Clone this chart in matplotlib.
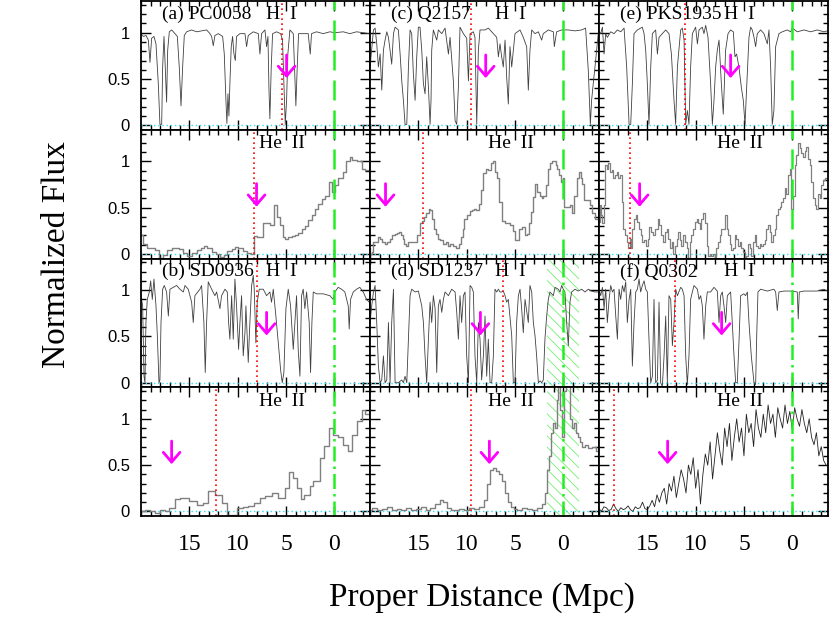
import numpy as np
import matplotlib
matplotlib.use('agg')
import matplotlib.pyplot as plt
from matplotlib.ticker import MultipleLocator, FixedLocator, FuncFormatter

# ---------------- data (Mpc, normalized flux) ----------------
a_hi_x = [20.01, 19.77, 19.49, 19.25, 19.08, 18.91, 18.67, 18.46, 18.22, 18.05, 17.87, 17.77, 17.63, 17.50, 17.36,
          17.25, 17.08, 16.84, 16.49, 16.25, 16.05, 15.87, 15.70, 15.53, 15.29, 14.77, 14.25, 13.74, 13.22, 12.87,
          12.70, 12.53, 12.36, 12.01, 11.56, 11.39, 11.22, 11.12, 11.01, 10.91, 10.81, 10.67, 10.53, 10.39, 10.25,
          10.12, 9.77, 9.25, 9.08, 8.91, 8.39, 7.87, 7.70, 7.53, 7.18, 7.01, 6.87, 6.77, 6.67, 6.53, 6.39, 5.98, 5.56,
          5.36, 5.22, 5.08, 4.94, 4.81, 4.60, 4.25, 4.12, 3.98, 3.84, 3.70, 3.22, 2.70, 2.60, 2.49, 2.36, 1.84, 1.15,
          0.46, -0.06, -0.92, -1.61, -2.30, -2.99, -3.61]
a_hi_y = [0.99, 0.96, 0.97, 0.92, 0.68, 0.94, 0.96, 0.88, 0.45, 0.01, 0.01, 0.63, 0.96, 0.63, 0.25, 0.81, 1.01, 1.03,
          0.99, 0.96, 0.63, 0.21, 0.63, 0.97, 1.01, 1.03, 1.01, 1.02, 1.03, 0.99, 0.96, 0.86, 0.97, 0.99, 0.96, 0.77,
          0.27, 0.02, 0.34, 0.10, 0.45, 0.85, 0.96, 0.77, 0.70, 0.96, 0.99, 0.99, 0.85, 0.97, 1.01, 0.99, 0.77, 0.99,
          1.03, 0.85, 0.96, 0.41, 0.07, 0.63, 0.99, 1.01, 0.99, 0.92, 0.45, 0.01, 0.27, 0.77, 1.03, 0.99, 0.63, 0.21,
          0.63, 0.99, 0.99, 0.99, 0.88, 0.77, 0.99, 1.01, 0.99, 1.01, 1.0, 1.01, 0.99, 1.01, 1.0, 0.99]

a_he_edges = [20.01, 19.77, 19.36, 18.56, 18.12, 17.7, 17.29, 16.84, 16.05, 15.63, 15.22, 14.77, 14.25, 13.84, 13.5,
              13.15, 12.7, 12.25, 11.84, 11.43, 11.08, 10.63, 10.29, 9.94, 9.5, 9.08, 8.67, 8.32, 7.98, 7.43, 7.01,
              6.67, 6.25, 5.91, 5.63, 5.36, 5.12, 4.77, 4.43, 4.08, 3.74, 3.39, 3.05, 2.7, 2.36, 2.01, 1.67, 1.32,
              0.98, 0.53, 0.19, -0.06, -0.4, -0.92, -1.26, -1.61, -1.88, -2.3, -2.82, -3.16, -3.68]
a_he_lev = [0.20, 0.11, 0.07, 0.04, -0.04, -0.01, 0.04, 0.06, 0.05, 0.01, -0.02, 0.01, 0.04, 0.06, 0.09, 0.06, 0.02,
            0.0, -0.03, -0.01, 0.03, 0.05, 0.08, 0.06, 0.03, 0.01, 0.0, 0.19, 0.18, 0.33, 0.34, 0.31, 0.53, 0.40,
            0.31, 0.18, 0.16, 0.18, 0.19, 0.21, 0.23, 0.27, 0.30, 0.37, 0.42, 0.49, 0.54, 0.59, 0.63, 0.78, 0.67,
            0.74, 0.82, 0.89, 1.0, 1.05, 1.02, 1.0, 0.92, 0.91]

c_hi_x = [20.17, 20.0, 19.65, 19.48, 19.31, 19.14, 18.96, 18.79, 18.62, 18.45, 18.27, 18.1, 17.93, 17.76, 17.58,
          17.41, 17.07, 16.89, 16.72, 16.55, 16.38, 16.2, 16.03, 15.86, 15.69, 15.52, 15.34, 15.17, 15.0, 14.83,
          14.65, 14.48, 14.31, 14.14, 13.96, 13.79, 13.69, 13.62, 13.45, 13.1, 12.93, 12.58, 12.24, 11.89, 11.72,
          11.38, 11.2, 11.03, 10.86, 10.69, 10.34, 10.0, 9.82, 9.65, 9.31, 9.14, 8.96, 8.79, 8.62, 8.1, 7.76, 7.24,
          6.89, 6.72, 6.55, 6.38, 6.21, 6.03, 5.86, 5.69, 5.52, 5.34, 5.17, 5.0, 4.48, 4.14, 3.79, 3.62, 3.45, 3.27,
          2.93, 2.58, 2.24, 2.07, 1.55, 1.03, 0.93, 0.69, 0.17, -0.52, -1.21, -1.9, -2.31, -2.59, -2.8, -2.93, -3.1,
          -3.28, -3.62]
c_hi_y = [0.12, 0.63, 1.03, 1.05, 0.88, 0.63, 0.77, 0.38, 0.81, 0.92, 1.01, 0.95, 0.81, 0.66, 0.99, 1.06, 1.03, 0.77,
          0.48, 0.27, 0.01, 0.01, 0.63, 1.03, 0.99, 0.56, 0.27, 0.74, 1.06, 1.06, 0.81, 0.45, 0.34, 0.74, 0.41, 0.01,
          0.27, 0.81, 1.03, 0.92, 1.03, 0.99, 1.05, 0.77, 0.95, 0.48, 0.05, 0.01, 0.41, 1.06, 0.99, 0.94, 0.48, 0.99,
          1.01, 0.95, 0.01, 0.81, 1.03, 1.03, 1.05, 0.99, 0.95, 0.74, 0.88, 0.74, 0.63, 0.92, 0.52, 0.23, 0.85, 0.63,
          0.81, 0.99, 1.03, 0.95, 0.85, 0.38, 0.81, 1.03, 0.99, 1.01, 0.92, 0.99, 1.03, 1.01, 0.85, 1.01, 1.03, 1.03,
          1.02, 1.03, 1.05, 0.59, 0.01, 0.27, 0.45, 0.63, 0.99]

c_he_x = [20.17, 19.89, 19.76, 19.55, 19.31, 19.14, 18.86, 18.62, 18.38, 18.1, 17.83, 17.58, 17.34, 17.07, 16.89,
          16.72, 16.55, 16.38, 16.2, 15.86, 15.69, 15.34, 15.0, 14.72, 14.48, 14.31, 14.03, 13.86, 13.69, 13.52,
          13.34, 13.1, 12.86, 12.58, 12.31, 12.07, 11.82, 11.55, 11.27, 10.93, 10.69, 10.52, 10.34, 10.17, 9.82,
          9.55, 9.31, 9.14, 8.86, 8.62, 8.45, 8.17, 7.93, 7.58, 7.34, 7.14, 6.96, 6.79, 6.55, 6.2, 5.96, 5.69, 5.34,
          5.07, 4.93, 4.72, 4.48, 4.14, 3.89, 3.69, 3.45, 3.21, 3.03, 2.83, 2.58, 2.31, 2.14, 1.96, 1.72, 1.48, 1.27,
          1.03, 0.86, 0.69, 0.58, 0.34, 0.1, -0.04, -0.17, -0.52, -0.8, -1.04, -1.28, -1.55, -1.73, -1.9, -2.07,
          -2.31, -2.59, -2.86, -3.1, -3.45, -3.62]
c_he_y = [0.06, 0.0, 0.02, 0.13, 0.13, 0.18, 0.16, 0.13, 0.11, 0.13, 0.16, 0.2, 0.22, 0.23, 0.24, 0.2, 0.16, 0.11,
          0.09, 0.13, 0.13, 0.13, 0.2, 0.33, 0.36, 0.4, 0.44, 0.49, 0.47, 0.38, 0.27, 0.22, 0.16, 0.15, 0.11, 0.13,
          0.09, 0.11, 0.09, 0.07, 0.11, 0.18, 0.27, 0.38, 0.42, 0.46, 0.47, 0.49, 0.47, 0.54, 0.69, 0.87, 0.92, 0.91,
          0.98, 1.0, 0.89, 0.82, 0.56, 0.36, 0.33, 0.33, 0.31, 0.25, 0.15, 0.15, 0.27, 0.29, 0.2, 0.22, 0.33, 0.45,
          0.62, 0.76, 0.67, 0.63, 0.6, 0.63, 0.74, 0.92, 0.98, 1.0, 1.0, 0.96, 0.92, 0.85, 0.78, 0.82, 0.51, 0.51,
          0.53, 0.44, 0.63, 0.82, 0.89, 0.82, 0.76, 0.58, 0.58, 0.53, 0.44, 0.38, 0.38]

e_hi_x = [20.17, 19.83, 19.65, 19.48, 19.31, 19.14, 18.79, 18.45, 18.1, 17.76, 17.41, 17.14, 16.89, 16.72, 16.55,
          16.38, 16.03, 15.52, 15.34, 15.17, 15.0, 14.83, 14.65, 14.48, 14.14, 13.96, 13.79, 13.45, 13.1, 12.76,
          12.51, 12.24, 12.07, 11.89, 11.55, 11.38, 11.2, 11.03, 10.86, 10.69, 10.52, 10.34, 10.0, 9.82, 9.65, 9.31,
          9.14, 8.96, 8.72, 8.45, 8.27, 8.1, 7.93, 7.76, 7.58, 7.34, 7.14, 6.9, 6.65, 6.38, 6.1, 5.93, 5.76, 5.52,
          5.27, 5.07, 4.89, 4.72, 4.48, 4.31, 4.14, 3.96, 3.79, 3.62, 3.27, 2.93, 2.58, 2.41, 2.24, 2.07, 1.9, 1.72,
          1.38, 1.03, 0.52, 0.17, 0.0, -0.52, -1.21, -1.9, -2.59, -3.28, -3.62]
e_hi_y = [1.03, 0.99, 1.06, 0.77, 0.99, 0.95, 1.01, 0.99, 1.03, 1.01, 1.05, 0.63, 0.01, 0.01, 0.45, 0.99, 1.03, 1.06,
          0.99, 0.81, 0.45, 0.01, 0.63, 0.99, 1.03, 0.77, 0.95, 0.99, 1.03, 0.99, 0.77, 0.27, 0.01, 0.63, 1.03, 1.05,
          0.92, 0.01, 0.16, 0.01, 0.63, 0.99, 1.06, 0.88, 1.03, 1.06, 0.99, 1.08, 0.95, 0.45, 0.01, 0.27, 0.63, 0.81,
          0.92, 0.45, 0.12, 0.81, 0.99, 1.03, 1.01, 0.74, 0.77, 0.63, 0.41, 0.27, 0.01, 0.41, 0.95, 1.06, 1.03, 0.95,
          0.85, 0.99, 1.03, 0.99, 0.88, 1.03, 0.63, 0.01, 0.16, 0.85, 0.99, 1.01, 1.03, 1.01, 1.05, 1.01, 1.03, 1.01,
          1.03, 1.01, 1.02]

e_he_x = [20.17, 20.0, 19.89, 19.76, 19.55, 19.41, 19.31, 19.14, 18.96, 18.79, 18.62, 18.45, 18.27, 18.1, 17.93,
          17.76, 17.58, 17.41, 17.24, 17.07, 16.89, 16.79, 16.65, 16.48, 16.31, 16.14, 15.96, 15.79, 15.62, 15.41,
          15.24, 15.07, 14.89, 14.72, 14.55, 14.31, 14.03, 13.86, 13.69, 13.52, 13.34, 13.1, 12.93, 12.76, 12.58,
          12.41, 12.24, 12.07, 11.89, 11.72, 11.55, 11.38, 11.2, 11.03, 10.86, 10.69, 10.52, 10.34, 10.17, 10.0,
          9.82, 9.65, 9.48, 9.31, 9.14, 8.96, 8.79, 8.62, 8.45, 8.27, 8.1, 7.93, 7.76, 7.58, 7.41, 7.24, 7.07, 6.89,
          6.72, 6.55, 6.38, 6.21, 6.03, 5.86, 5.69, 5.52, 5.34, 5.17, 5.0, 4.83, 4.65, 4.48, 4.31, 4.14, 3.96, 3.79,
          3.62, 3.45, 3.27, 3.1, 2.93, 2.76, 2.58, 2.41, 2.24, 2.07, 1.9, 1.72, 1.55, 1.38, 1.21, 1.03, 0.86, 0.69,
          0.52, 0.34, 0.17, 0.0, -0.17, -0.35, -0.52, -0.69, -0.86, -1.04, -1.21, -1.38, -1.55, -1.73, -1.9, -2.07,
          -2.24, -2.41, -2.59, -2.76, -2.93, -3.1, -3.28, -3.55]
e_he_y = [0.38, 0.35, 0.53, 0.42, 0.33, 0.53, 0.96, 0.92, 0.98, 0.89, 0.91, 0.82, 0.85, 0.89, 0.82, 0.85, 0.56, 0.27,
          0.2, 0.13, 0.07, 0.16, 0.06, 0.27, 0.38, 0.42, 0.35, 0.27, 0.2, 0.13, 0.15, 0.09, 0.16, 0.29, 0.24, 0.2,
          0.27, 0.38, 0.31, 0.2, 0.13, 0.24, 0.27, 0.16, 0.06, 0.13, 0.0, 0.09, 0.16, 0.24, 0.15, 0.09, 0.2, 0.13,
          0.07, -0.04, 0.13, 0.2, 0.27, 0.35, 0.38, 0.33, 0.27, 0.38, 0.44, 0.33, 0.09, -0.02, 0.0, -0.02, 0.0, -0.04,
          0.06, 0.13, 0.2, 0.27, 0.27, 0.42, 0.27, 0.2, 0.11, 0.04, 0.07, 0.2, 0.16, 0.09, 0.13, 0.07, 0.02, -0.04,
          -0.02, 0.11, 0.06, -0.02, 0.13, 0.2, 0.09, 0.07, 0.11, 0.09, 0.11, 0.15, 0.27, 0.31, 0.24, 0.13, 0.2, 0.27,
          0.42, 0.49, 0.51, 0.56, 0.6, 0.71, 0.65, 0.85, 0.92, 0.49, 0.63, 0.96, 1.07, 1.2, 1.14, 1.09, 1.05, 1.11,
          1.16, 1.03, 0.96, 0.78, 0.6, 0.53, 0.49, 0.65, 0.6, 0.74, 0.8, 0.82]

b_hi_x = [20.01, 19.84, 19.7, 19.6, 19.5, 19.36, 19.15, 19.01, 18.84, 18.67, 18.46, 18.32, 18.15, 18.05, 17.94,
          17.77, 17.6, 17.36, 17.18, 17.01, 16.67, 16.32, 15.98, 15.63, 15.46, 15.12, 14.77, 14.6, 14.43, 13.91,
          13.74, 13.5, 13.36, 13.22, 13.05, 12.7, 12.36, 12.18, 11.84, 11.67, 11.32, 11.08, 10.94, 10.81, 10.63,
          10.46, 10.29, 10.12, 9.91, 9.77, 9.6, 9.43, 9.25, 9.15, 8.91, 8.74, 8.56, 8.39, 8.29, 8.12, 7.98, 7.77,
          7.36, 7.01, 6.67, 6.5, 6.32, 6.05, 5.8, 5.56, 5.39, 5.22, 5.01, 4.77, 4.53, 4.25, 4.08, 3.91, 3.74, 3.56,
          3.39, 3.22, 3.05, 2.87, 2.6, 2.46, 2.32, 2.18, 1.84, 1.15, 0.46, 0.12, -0.06, -0.4, -0.75, -1.09, -1.44,
          -1.54, -1.68, -1.96, -2.3, -2.64, -2.99, -3.33, -3.61]
b_hi_y = [0.94, 0.83, 0.07, 0.0, 0.65, 0.90, 0.98, 1.10, 0.90, 1.12, 0.83, 0.51, 0.0, 0.03, 0.65, 1.01, 1.05, 0.98,
          0.72, 1.01, 1.03, 1.05, 1.01, 0.98, 1.05, 1.01, 0.87, 0.65, 0.94, 1.01, 1.05, 0.65, 0.11, 0.65, 1.09, 1.01,
          0.94, 0.98, 0.80, 0.94, 1.01, 0.98, 0.65, 0.47, 0.94, 0.47, 1.12, 0.83, 0.36, 0.65, 0.94, 0.29, 0.54, 0.83,
          0.22, 0.65, 1.05, 1.16, 1.01, 0.43, 0.87, 1.01, 1.01, 0.94, 0.98, 0.87, 1.01, 0.72, 0.43, 0.14, 0.0, 0.11,
          0.80, 1.01, 0.83, 0.36, 0.65, 0.94, 0.36, 0.07, 0.94, 1.01, 0.80, 0.98, 0.65, 0.11, 0.65, 0.98, 0.96, 0.96,
          0.94, 0.90, 0.98, 1.03, 1.01, 0.98, 0.83, 0.58, 0.90, 0.98, 1.01, 1.03, 0.98, 0.90, 0.87]

b_he_edges = [20.01, 19.6, 19.08, 18.56, 18.05, 17.53, 17.08, 16.5, 15.98, 15.01, 14.25, 13.63, 13.05, 12.36, 11.67,
              11.08, 10.12, 9.5, 8.91, 8.32, 7.7, 7.18, 6.49, 5.8, 5.11, 4.67, 4.25, 3.91, 3.49, 3.15, 2.53, 2.18,
              1.49, 1.08, 0.6, 0.12, -0.4, -0.92, -1.44, -1.78, -2.3, -2.82, -3.16, -3.68]
b_he_lev = [0.0, 0.02, -0.0, -0.02, 0.01, 0.0, 0.04, 0.13, 0.14, 0.11, 0.07, 0.09, 0.22, 0.18, 0.09, -0.04, 0.04,
            0.05, 0.06, 0.09, 0.14, 0.17, 0.2, 0.15, 0.25, 0.43, 0.36, 0.25, 0.13, 0.18, 0.27, 0.33, 0.58, 0.71, 0.9,
            0.83, 0.8, 0.72, 0.65, 0.83, 0.98, 1.09, 1.05]

d_hi_x = [20.17, 20.0, 19.83, 19.65, 19.48, 19.31, 19.14, 18.96, 18.79, 18.62, 18.45, 18.27, 18.1, 17.93, 17.76,
          17.58, 17.41, 17.07, 16.72, 16.55, 16.38, 16.2, 16.03, 15.86, 15.69, 15.34, 15.0, 14.65, 14.48, 14.31,
          14.14, 13.96, 13.79, 13.62, 13.45, 13.27, 13.1, 12.93, 12.76, 12.58, 12.41, 12.24, 11.89, 11.55, 11.2,
          11.03, 10.86, 10.69, 10.52, 10.34, 10.17, 10.0, 9.82, 9.65, 9.48, 9.31, 9.14, 8.96, 8.79, 8.62, 8.45,
          8.27, 8.1, 7.93, 7.76, 7.58, 7.41, 7.24, 7.07, 6.89, 6.72, 6.55, 6.38, 6.21, 6.03, 5.86, 5.69, 5.34, 5.17,
          5.0, 4.83, 4.65, 4.48, 4.31, 4.14, 3.96, 3.62, 3.45, 3.27, 3.1, 2.93, 2.76, 2.58, 2.41, 2.24, 2.07, 1.9,
          1.72, 1.55, 1.38, 1.03, 0.86, 0.52, 0.34, 0.17, 0.0, -0.17, -0.35, -0.52, -0.69, -0.86, -1.21, -1.55,
          -1.9, -2.24, -2.59, -2.93, -3.28, -3.62]
d_hi_y = [0.22, 0.65, 0.83, 0.98, 1.05, 0.65, 0.18, 0.0, 0.03, 0.29, 0.0, 0.03, 0.65, 0.0, 0.65, 1.01, 0.0, 0.0, 0.03,
          0.0, 0.07, 0.0, 0.47, 0.94, 1.01, 0.98, 0.99, 0.83, 0.65, 0.29, 0.0, 0.47, 0.87, 0.65, 0.94, 0.80, 0.11,
          0.83, 0.90, 0.76, 0.90, 0.98, 0.94, 1.01, 0.98, 0.76, 0.47, 0.94, 0.65, 0.94, 0.98, 0.29, 0.0, 1.05, 1.03,
          0.98, 0.29, 0.0, 0.65, 0.47, 0.03, 0.29, 0.72, 0.07, 0.47, 0.0, 0.0, 0.29, 1.01, 0.98, 1.01, 0.98, 0.98,
          0.99, 0.94, 0.87, 0.90, 0.51, 0.0, 0.0, 0.65, 0.94, 1.01, 0.80, 0.54, 0.90, 0.65, 1.05, 0.98, 0.65, 0.51,
          0.29, 0.0, 0.02, 0.0, 0.03, 0.47, 0.72, 0.90, 0.98, 0.94, 1.03, 1.01, 0.98, 1.05, 1.01, 0.98, 0.65, 0.40,
          0.87, 0.98, 1.01, 0.99, 1.01, 0.98, 1.01, 0.99, 0.98, 0.98]

d_he_x = [20.1, 19.5, 19.0, 18.5, 18.0, 17.5, 17.0, 16.5, 16.0, 15.5, 15.0, 14.5, 14.0, 13.5, 13.0, 12.6, 12.2, 11.8,
          11.4, 11.0, 10.5, 10.0, 9.5, 9.0, 8.5, 8.0, 7.7, 7.4, 7.1, 6.8, 6.5, 6.2, 5.9, 5.6, 5.3, 5.0, 4.5, 4.0, 3.5,
          3.0, 2.5, 2.0, 1.8, 1.6, 1.4, 1.2, 1.0, 0.8, 0.6, 0.4, 0.2, 0.0, -0.2, -0.4, -0.6, -0.8, -1.0, -1.2, -1.4,
          -1.6, -1.8, -2.0, -2.4, -2.8, -3.2, -3.6]
d_he_y = [0.02, 0.04, 0.01, 0.03, 0.05, 0.02, 0.03, 0.01, 0.04, 0.02, 0.03, 0.05, 0.02, 0.04, 0.08, 0.12, 0.1, 0.04,
          0.02, 0.01, 0.03, 0.02, 0.04, 0.03, 0.05, 0.12, 0.3, 0.45, 0.47, 0.44, 0.4, 0.33, 0.2, 0.1, 0.05, 0.03, 0.02,
          0.04, 0.03, 0.02, 0.04, 0.08, 0.2, 0.45, 0.6, 0.85, 0.95, 0.9, 1.2, 1.35, 1.1, 0.8, 1.3, 1.35, 1.35, 1.0,
          0.9, 0.95, 0.85, 0.8, 0.75, 0.7, 0.72, 0.68, 0.7, 0.65]

f_hi_x = [20.17, 20.0, 19.83, 19.65, 19.48, 19.31, 19.14, 18.96, 18.79, 18.62, 18.45, 18.27, 18.1, 17.93, 17.76,
          17.58, 17.41, 17.24, 17.07, 16.89, 16.72, 16.55, 16.38, 16.2, 16.03, 15.86, 15.69, 15.52, 15.34, 15.17,
          15.0, 14.83, 14.65, 14.48, 14.31, 14.14, 13.96, 13.79, 13.62, 13.45, 13.27, 13.1, 12.93, 12.76, 12.58,
          12.41, 12.24, 12.07, 11.89, 11.55, 11.38, 11.2, 11.03, 10.86, 10.69, 10.52, 10.34, 10.17, 9.82, 9.65,
          9.48, 9.31, 9.14, 8.96, 8.79, 8.45, 8.1, 7.76, 7.58, 7.41, 7.24, 7.07, 6.89, 6.72, 6.38, 6.21, 6.03, 5.86,
          5.69, 5.52, 5.34, 5.0, 4.83, 4.65, 4.48, 4.24, 3.96, 3.79, 3.69, 3.55, 3.27, 2.58, 1.9, 1.72, 1.55, 1.38,
          0.86, 0.17, -0.52, -0.62, -0.73, -1.21, -1.9, -2.59, -3.28, -3.62]
f_hi_y = [0.98, 1.01, 0.94, 1.03, 0.80, 1.01, 0.65, 0.90, 1.05, 0.98, 1.01, 0.72, 0.47, 1.01, 0.90, 1.05, 0.98, 1.09,
          0.65, 0.90, 1.01, 0.18, 0.65, 0.98, 1.01, 1.12, 0.98, 1.05, 1.10, 1.01, 0.98, 0.47, 0.0, 0.07, 0.90, 0.0,
          0.03, 0.87, 0.0, -0.04, 0.29, 0.72, 0.0, 0.94, 0.90, 0.40, 0.65, 1.01, 0.94, 1.03, 1.01, 0.94, 0.29, -0.02,
          0.29, 0.90, 0.98, 1.05, 1.01, 0.90, 0.94, 0.83, 0.47, 0.83, 0.98, 0.98, 1.03, 0.99, 0.65, 0.94, 0.98, 0.83,
          0.65, 0.94, 0.98, 0.65, 0.29, 0.0, 0.0, 0.43, 0.94, 0.96, 0.94, 0.98, 0.65, 0.29, 0.0, -0.02, 0.47, 0.98,
          1.01, 0.99, 1.01, 0.98, 0.78, 0.98, 0.99, 0.99, 0.98, 0.69, 0.98, 0.99, 0.99, 0.99, 1.01, 0.99]

f_he_x = [20.0, 19.75, 19.5, 19.25, 19.0, 18.75, 18.5, 18.25, 18.0, 17.75, 17.5, 17.25, 17.0, 16.75, 16.5, 16.25,
          16.0, 15.75, 15.5, 15.25, 15.0, 14.75, 14.5, 14.25, 14.0, 13.75, 13.5, 13.25, 13.0, 12.75, 12.5, 12.25,
          12.0, 11.75, 11.5, 11.25, 11.0, 10.75, 10.5, 10.25, 10.0, 9.75, 9.5, 9.25, 9.0, 8.75, 8.5, 8.25, 8.0, 7.75,
          7.5, 7.25, 7.0, 6.75, 6.5, 6.25, 6.0, 5.75, 5.5, 5.25, 5.0, 4.75, 4.5, 4.25, 4.0, 3.75, 3.5, 3.25, 3.0,
          2.75, 2.5, 2.25, 2.0, 1.75, 1.5, 1.25, 1.0, 0.75, 0.5, 0.25, 0.0, -0.25, -0.5, -0.75, -1.0, -1.25, -1.5,
          -1.75, -2.0, -2.25, -2.5, -2.75, -3.0, -3.25, -3.5]
f_he_y = [0.03, 0.0, 0.05, 0.04, 0.01, 0.02, 0.08, 0.03, 0.0, 0.04, 0.02, 0.03, 0.06, 0.02, 0.0, 0.05, 0.03, 0.04,
          0.1, 0.03, 0.02, 0.06, 0.12, 0.05, 0.18, 0.1, 0.2, 0.25, 0.08, 0.3, 0.22, 0.38, 0.15, 0.3, 0.45, 0.35, 0.2,
          0.5, 0.4, 0.58, 0.25, 0.45, 0.08, 0.4, 0.62, 0.5, 0.75, 0.35, 0.6, 0.85, 0.65, 0.5, 0.9, 0.7, 0.95, 0.55,
          0.8, 1.0, 0.75, 0.9, 0.6, 1.05, 0.85, 0.95, 0.7, 1.1, 0.9, 0.8, 1.05, 0.85, 1.15, 0.95, 1.05, 0.8, 1.12, 1.0,
          0.9, 1.15, 0.95, 1.08, 0.88, 1.12, 1.0, 0.92, 1.1, 0.95, 0.85, 1.0, 0.8, 0.72, 0.85, 0.6, 0.7, 0.55, 0.5]

# panel annotations: name, red dotted line (HI, HeII), arrow position (HI, HeII)
names = {'a': '(a) PC0058', 'b': '(b) SD0936', 'c': '(c) Q2157', 'd': '(d) SD1237', 'e': '(e) PKS1935', 'f': '(f) Q0302'}
red_hi = {'a': 5.46, 'b': 8.05, 'c': 9.55, 'd': 6.2, 'e': 11.1, 'f': 12.17}
red_he = {'a': 8.32, 'b': 12.29, 'c': 14.48, 'd': 9.6, 'e': 16.82, 'f': 18.5}
arr_hi = {'a': 4.94, 'b': 7.01, 'c': 8.03, 'd': 8.58, 'e': 6.38, 'f': 7.31}
arr_he = {'a': 8.05, 'b': 16.84, 'c': 18.4, 'd': 7.65, 'e': 15.8, 'f': 12.9}
hatch_d = (1.7, -1.6)

serif = 'Liberation Serif'
sans = 'Liberation Sans'

fig = plt.figure(figsize=(8.3, 6.21), dpi=100)
gs = fig.add_gridspec(4, 3, left=0.170, right=0.9976, top=0.998, bottom=0.169, hspace=0, wspace=0)

layout = {'a': (0, 0), 'c': (0, 1), 'e': (0, 2), 'b': (2, 0), 'd': (2, 1), 'f': (2, 2)}
hi_data = {'a': (a_hi_x, a_hi_y), 'b': (b_hi_x, b_hi_y), 'c': (c_hi_x, c_hi_y),
           'd': (d_hi_x, d_hi_y), 'e': (e_hi_x, e_hi_y), 'f': (f_hi_x, f_hi_y)}


def style(ax, row, col):
    ax.set_xlim(20, -3.7)
    ax.set_ylim(-0.05, 1.34)
    ax.xaxis.set_major_locator(FixedLocator([15, 10, 5, 0]))
    ax.xaxis.set_minor_locator(MultipleLocator(1))
    ax.yaxis.set_major_locator(FixedLocator([0, 0.5, 1]))
    ax.yaxis.set_minor_locator(MultipleLocator(0.1))
    ax.yaxis.set_major_formatter(FuncFormatter(lambda v, p: '%g' % v))
    ax.tick_params(which='both', direction='in', top=True, right=True, width=1)
    ax.tick_params(which='major', length=7)
    ax.tick_params(which='minor', length=3.5)
    ax.tick_params(axis='y', labelsize=12, pad=8)
    ax.tick_params(axis='x', labelsize=17, pad=13)
    for lab in ax.get_yticklabels():
        lab.set_family(sans)
    for lab in ax.get_xticklabels():
        lab.set_family(serif)
    for s in ax.spines.values():
        s.set_linewidth(1.3)
    if col != 0:
        ax.tick_params(labelleft=False)
    if row != 3:
        ax.tick_params(labelbottom=False)
    ax.axhline(0, color='#30e0f0', ls=(0, (1, 2)), lw=1)


def marks(ax, key, red, arr):
    green_ls = (0, (8, 4)) if key in 'ace' else (0, (6, 2, 1, 2))
    ax.axvline(0, color='#22ee22', ls=green_ls, lw=1.8)
    ax.axvline(red, color='red', ls=(0, (1, 2)), lw=1.2)
    if key == 'd':
        ax.axvspan(*hatch_d, facecolor='none', edgecolor='#70f070', hatch='\\\\\\', lw=0)
    ax.annotate('', xy=(arr, 0.51), xytext=(arr, 0.76),
                arrowprops=dict(arrowstyle='->,head_length=0.35,head_width=0.3', color='magenta',
                                lw=2, mutation_scale=20, shrinkA=0, shrinkB=0))


plt.rcParams['hatch.linewidth'] = 0.6

for key, (r0, col) in layout.items():
    ax1 = fig.add_subplot(gs[r0, col])
    ax2 = fig.add_subplot(gs[r0 + 1, col])
    style(ax1, r0, col)
    style(ax2, r0 + 1, col)

    hx, hy = hi_data[key]
    ax1.plot(hx, hy, color='#404040', lw=0.6)
    marks(ax1, key, red_hi[key], arr_hi[key])
    ax1.text(17.8, 1.2, names[key], fontsize=14, family=serif, va='center')
    ax1.text(7.1, 1.2, 'H  I', fontsize=14, family=serif, va='center')

    if key == 'a':
        ax2.step(a_he_edges, a_he_lev + [a_he_lev[-1]], where='post', color='#808080', lw=1)
    elif key == 'b':
        ax2.step(b_he_edges, b_he_lev + [b_he_lev[-1]], where='post', color='#808080', lw=1)
    elif key == 'c':
        ax2.plot(c_he_x, c_he_y, drawstyle='steps-mid', color='#808080', lw=1)
    elif key == 'd':
        ax2.plot(d_he_x, d_he_y, drawstyle='steps-mid', color='#808080', lw=1)
    elif key == 'e':
        ax2.plot(e_he_x, e_he_y, drawstyle='steps-mid', color='#808080', lw=0.9)
    else:
        ax2.plot(f_he_x, f_he_y, color='#222222', lw=0.6)
    marks(ax2, key, red_he[key], arr_he[key])
    ax2.text(7.8, 1.19, 'He  II', fontsize=14, family=serif, va='center')

fig.text(0.581, 0.037, 'Proper Distance (Mpc)', ha='center', va='center', fontsize=24, family=serif)
fig.text(0.068, 0.59, 'Normalized Flux', ha='center', va='center', rotation=90, fontsize=24, family=serif)

fig.savefig('out.png', dpi=100)
